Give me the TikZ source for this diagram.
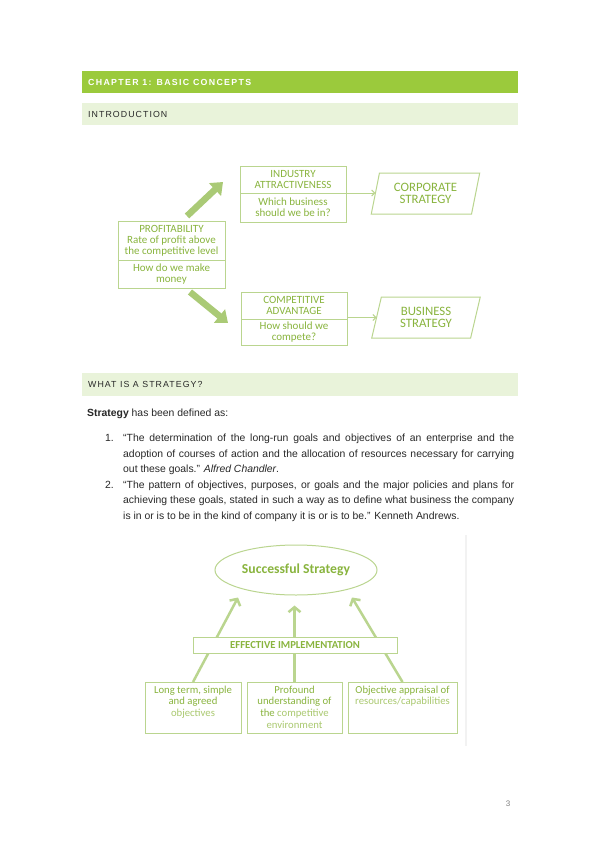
\documentclass[tikz,border=0pt]{standalone}
\usepackage{fontspec}
\setmainfont{Liberation Sans}
\newfontfamily\dg{Carlito}
\usetikzlibrary{arrows.meta,shapes.geometric,calc}
\definecolor{headg}{RGB}{155,202,60}
\definecolor{barg}{RGB}{233,243,218}
\definecolor{lineg}{RGB}{186,213,143}
\definecolor{textg}{RGB}{137,180,62}
\definecolor{lightg}{RGB}{170,201,112}
\definecolor{arrg}{RGB}{170,202,118}
\definecolor{bodyt}{RGB}{40,40,40}
\begin{document}
\begin{tikzpicture}[x=1pt,y=-1pt,
  bar/.style={anchor=north west,inner sep=0pt,outer sep=0pt,minimum width=436pt},
  bartext/.style={anchor=west,inner sep=0pt,font=\fontsize{8.8}{10}\selectfont\addfontfeature{LetterSpace=12}},
  body/.style={anchor=base west,inner sep=0pt,text=bodyt,font=\fontsize{10.4}{12}\selectfont},
  gbox/.style={draw=lineg,line width=1pt,inner sep=0pt,outer sep=0pt,align=center,text=textg,
    font=\dg\fontsize{11}{11}\selectfont},
  para/.style={trapezium,trapezium left angle=75,trapezium right angle=105,trapezium stretches=true,
    draw=lineg,line width=1pt,inner sep=0pt,outer sep=0pt,minimum width=109pt,minimum height=41pt,
    align=center,text=textg,font=\dg\fontsize{12.8}{12.5}\selectfont},
  thinarr/.style={draw=lineg,line width=1pt,-{Straight Barb[length=3pt,width=6pt]}},
  blockarr/.style={draw=arrg,line width=6.5pt,-{Triangle[length=11pt,width=17pt]}},
  midarr/.style={draw=lineg,line width=2.5pt,-{Straight Barb[length=5pt,width=12pt]}},
  boxtext/.style={anchor=north,inner sep=0pt,align=center,text=textg,font=\dg\fontsize{10.7}{11.7}\selectfont}
]
\useasboundingbox (0,0) rectangle (599,848);
\fill[white] (0,0) rectangle (599,848);

% header bars
\node[bar,fill=headg,minimum height=22.5pt] (b1) at (82,71) {};
\node[bartext,text=white,font=\bfseries\fontsize{8.8}{10}\selectfont\addfontfeature{LetterSpace=15}] (t1) at (88,82.5) {CHAPTER 1: BASIC CONCEPTS};
\node[bar,fill=barg,minimum height=22pt] (b2) at (82,103) {};
\node[bartext,text=bodyt] (t2) at (88,114) {INTRODUCTION};
\node[bar,fill=barg,minimum height=23pt] (b3) at (82,373) {};
\node[bartext,text=bodyt] (t3) at (88,384.5) {WHAT IS A STRATEGY?};

% diagram 1
\node[gbox,minimum width=107pt,minimum height=39pt] (proft) at (171.5,240.5) {PROFITABILITY\\Rate of profit above\\the competitive level};
\node[gbox,minimum width=107pt,minimum height=28pt] (profb) at (171.5,274) {How do we make\\money};
\node[gbox,minimum width=106pt,minimum height=27pt] (indt) at (293,179.5) {INDUSTRY\\ATTRACTIVENESS};
\node[gbox,minimum width=106pt,minimum height=29pt] (indb) at (293,207.5) {Which business\\should we be in?};
\node[gbox,minimum width=106pt,minimum height=27pt] (compt) at (294,305.5) {COMPETITIVE\\ADVANTAGE};
\node[gbox,minimum width=106pt,minimum height=26pt] (compb) at (294,332) {How should we\\compete?};
\node[para] (corp) at (425.5,193.5) {CORPORATE\\STRATEGY};
\node[para] (bus) at (426,317.5) {BUSINESS\\STRATEGY};
\draw[thinarr] (indt.south east) -- (indt.south east -| corp.west);
\draw[thinarr] ([yshift=1.5]compt.south east) -- ([yshift=1.5]compt.south east -| bus.west);
\draw[blockarr] ([shift={(15.5,-5)}]proft.north) -- ([shift={(-17,2.5)}]indt.west);
\draw[blockarr] ([shift={(18.5,4)}]profb.south) -- ([shift={(-13,-9)}]compb.west);

% text
\node[body] (s0) at (87,416.5) {\textbf{Strategy} has been defined as:};
\node[body] (n1) at (105,441.5) {1.};
\node[body] (l1) at (123,441.5) {\makebox[391pt][s]{“The determination of the long-run goals and objectives of an enterprise and the}};
\node[body] (l2) at (123,457) {\makebox[391pt][s]{adoption of courses of action and the allocation of resources necessary for carrying}};
\node[body] (l3) at (123,472.5) {out these goals.” \textit{Alfred Chandler}.};
\node[body] (n2) at (105,488) {2.};
\node[body] (l4) at (123,488) {\makebox[391pt][s]{“The pattern of objectives, purposes, or goals and the major policies and plans for}};
\node[body] (l5) at (123,503.5) {\makebox[391pt][s]{achieving these goals, stated in such a way as to define what business the company}};
\node[body] (l6) at (123,519) {is in or is to be in the kind of company it is or is to be.” Kenneth Andrews.};

% diagram 2
\draw[gray!10,line width=1.2pt] (466,535) -- (466,746);
\node[ellipse,draw=lineg,line width=1pt,minimum width=162pt,minimum height=50pt,inner sep=0pt,
  text=textg,font=\dg\bfseries\fontsize{13.7}{15}\selectfont] (succ) at (296,570) {Successful Strategy};
\node[gbox,minimum width=96pt,minimum height=51pt] (o1) at (193,707.5) {};
\node[gbox,minimum width=95pt,minimum height=51pt] (o2) at (294.5,707.5) {};
\node[gbox,minimum width=109pt,minimum height=51pt] (o3) at (402.5,707.5) {};
\draw[midarr] (o1.north) -- ($(succ.south)+(-58,2)$);
\draw[midarr] (o2.north) -- ($(o2.north |- succ.south)+(0,10)$);
\draw[midarr] (o3.north) -- ($(succ.south)+(56,2)$);
\node[gbox,fill=white,minimum width=204pt,minimum height=16pt,font=\dg\bfseries\fontsize{10.7}{12}\selectfont] (eff) at (295,645) {EFFECTIVE IMPLEMENTATION};
\node[boxtext] (o1t) at ([yshift=-3.5]o1.north) {Long term, simple\\and agreed\\{\color{lightg}objectives}};
\node[boxtext] (o2t) at ([yshift=-3.5]o2.north) {Profound\\understanding of\\the {\color{lightg}competitive}\\{\color{lightg}environment}};
\node[boxtext] (o3t) at ([yshift=-3.5]o3.north) {Objective appraisal of\\{\color{lightg}resources/capabilities}};

\node[inner sep=0pt,text=gray,font=\fontsize{8}{10}\selectfont] (pg) at (508,804) {3};
\end{tikzpicture}
\end{document}
